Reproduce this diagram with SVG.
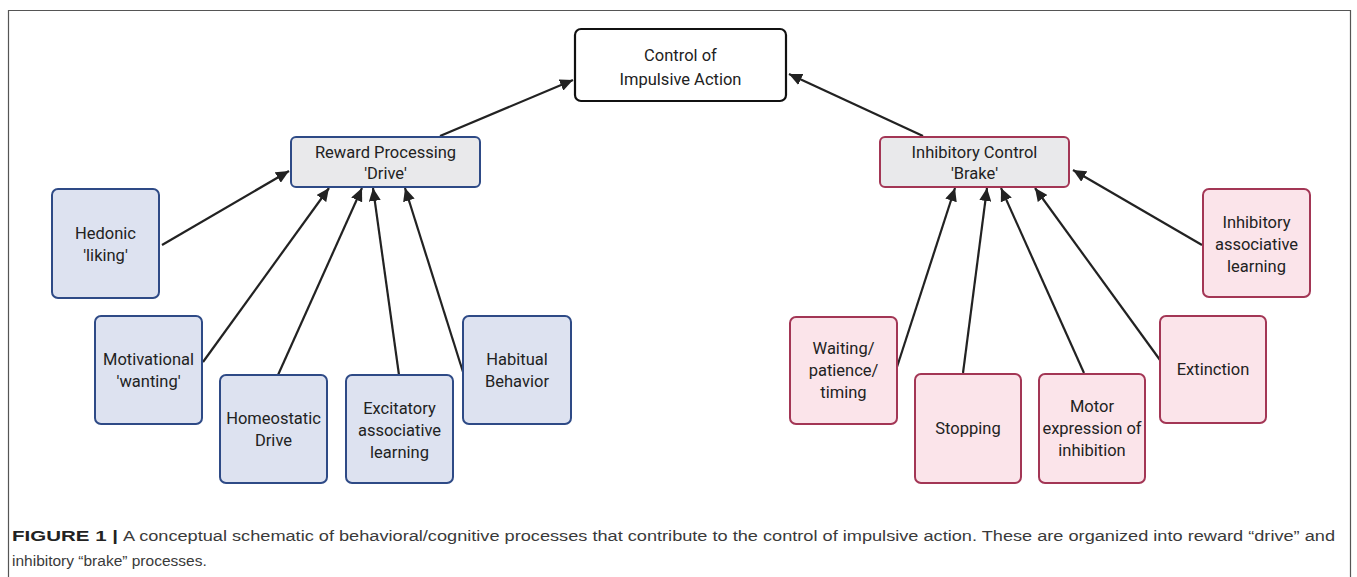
<svg xmlns="http://www.w3.org/2000/svg" width="1357" height="577" viewBox="0 0 1357 577">
<style>
.t{font-family:Roboto,"Liberation Sans",sans-serif;font-size:16.5px;fill:#222;text-anchor:middle}
.cap{font-family:"Liberation Sans",Arial,sans-serif;font-size:15.5px;fill:#3a3a3a}
.capb{font-family:"Liberation Sans",Arial,sans-serif;font-size:15.5px;font-weight:bold;fill:#222}
.blue{fill:#dde2f0;stroke:#2e4a86;stroke-width:2}
.red{fill:#fbe4ea;stroke:#a33655;stroke-width:2}
.hubb{fill:#e9e9eb;stroke:#2e4a86;stroke-width:2}
.hubr{fill:#e9e9eb;stroke:#a33655;stroke-width:2}
.top{fill:#fff;stroke:#111;stroke-width:2.2}
.c{stroke:#222;stroke-width:2.2;fill:none;marker-end:url(#ah)}
</style>
<defs>
<marker id="ah" markerUnits="userSpaceOnUse" markerWidth="14" markerHeight="12" refX="13" refY="6" orient="auto">
<path d="M0,0 L13,6 L0,12 Z" fill="#222"/>
</marker>
</defs>
<rect x="0" y="0" width="1357" height="577" fill="#fff"/>
<path d="M8.5,577 V10.5 H1350.5 V577" fill="none" stroke="#555" stroke-width="1.2"/>

<g id="connectors">
<line class="c" x1="440" y1="136" x2="573" y2="80"/>
<line class="c" x1="923" y1="136" x2="789" y2="74"/>
<line class="c" x1="162" y1="245" x2="289" y2="171"/>
<line class="c" x1="203" y1="362" x2="329" y2="188"/>
<line class="c" x1="278" y1="375" x2="362" y2="188"/>
<line class="c" x1="399" y1="375" x2="373" y2="188"/>
<line class="c" x1="463" y1="372" x2="405" y2="188"/>
<line class="c" x1="897" y1="367" x2="955" y2="188"/>
<line class="c" x1="963" y1="373" x2="987" y2="188"/>
<line class="c" x1="1084" y1="373" x2="1001" y2="188"/>
<line class="c" x1="1160" y1="360" x2="1035" y2="188"/>
<line class="c" x1="1202" y1="245" x2="1073" y2="170"/>
</g>

<g id="control">
<rect class="top" x="575" y="29" width="211" height="72" rx="6"/>
<text class="t" x="680.5" y="61">Control of</text>
<text class="t" x="680.5" y="85">Impulsive Action</text>
</g>
<g id="reward">
<rect class="hubb" x="291" y="137" width="189" height="50" rx="5"/>
<text class="t" x="385.5" y="158">Reward Processing</text>
<text class="t" x="385.5" y="179">'Drive'</text>
</g>
<g id="inhibitory">
<rect class="hubr" x="880" y="137" width="189" height="50" rx="5"/>
<text class="t" x="974.5" y="158">Inhibitory Control</text>
<text class="t" x="974.5" y="179">'Brake'</text>
</g>

<g id="hedonic">
<rect class="blue" x="52" y="189" width="107" height="109" rx="6"/>
<text class="t" x="105.5" y="239">Hedonic</text>
<text class="t" x="105.5" y="261">'liking'</text>
</g>
<g id="motivational">
<rect class="blue" x="95" y="316" width="107" height="108" rx="6"/>
<text class="t" x="148.5" y="365">Motivational</text>
<text class="t" x="148.5" y="387">'wanting'</text>
</g>
<g id="homeostatic">
<rect class="blue" x="220" y="375" width="107" height="108" rx="6"/>
<text class="t" x="273.5" y="424">Homeostatic</text>
<text class="t" x="273.5" y="446">Drive</text>
</g>
<g id="excitatory">
<rect class="blue" x="346" y="375" width="107" height="108" rx="6"/>
<text class="t" x="399.5" y="414">Excitatory</text>
<text class="t" x="399.5" y="436">associative</text>
<text class="t" x="399.5" y="458">learning</text>
</g>
<g id="habitual">
<rect class="blue" x="463" y="316" width="108" height="108" rx="6"/>
<text class="t" x="517" y="365">Habitual</text>
<text class="t" x="517" y="387">Behavior</text>
</g>

<g id="inhibitory-associative">
<rect class="red" x="1203" y="189" width="107" height="108" rx="6"/>
<text class="t" x="1256.5" y="228">Inhibitory</text>
<text class="t" x="1256.5" y="250">associative</text>
<text class="t" x="1256.5" y="272">learning</text>
</g>
<g id="waiting">
<rect class="red" x="790" y="317" width="107" height="107" rx="6"/>
<text class="t" x="843.5" y="354">Waiting/</text>
<text class="t" x="843.5" y="376">patience/</text>
<text class="t" x="843.5" y="398">timing</text>
</g>
<g id="stopping">
<rect class="red" x="915" y="374" width="106" height="109" rx="6"/>
<text class="t" x="968" y="434">Stopping</text>
</g>
<g id="motor">
<rect class="red" x="1039" y="374" width="106" height="109" rx="6"/>
<text class="t" x="1092" y="412">Motor</text>
<text class="t" x="1092" y="434">expression of</text>
<text class="t" x="1092" y="456">inhibition</text>
</g>
<g id="extinction">
<rect class="red" x="1160" y="316" width="106" height="107" rx="6"/>
<text class="t" x="1213" y="375">Extinction</text>
</g>

<g id="caption">
<text class="capb" x="12" y="541" textLength="106" lengthAdjust="spacingAndGlyphs">FIGURE 1 |</text>
<text class="cap" x="123" y="541" textLength="1212" lengthAdjust="spacingAndGlyphs">A conceptual schematic of behavioral/cognitive processes that contribute to the control of impulsive action. These are organized into reward “drive” and</text>
<text class="cap" x="12" y="566">inhibitory “brake” processes.</text>
</g>
</svg>
